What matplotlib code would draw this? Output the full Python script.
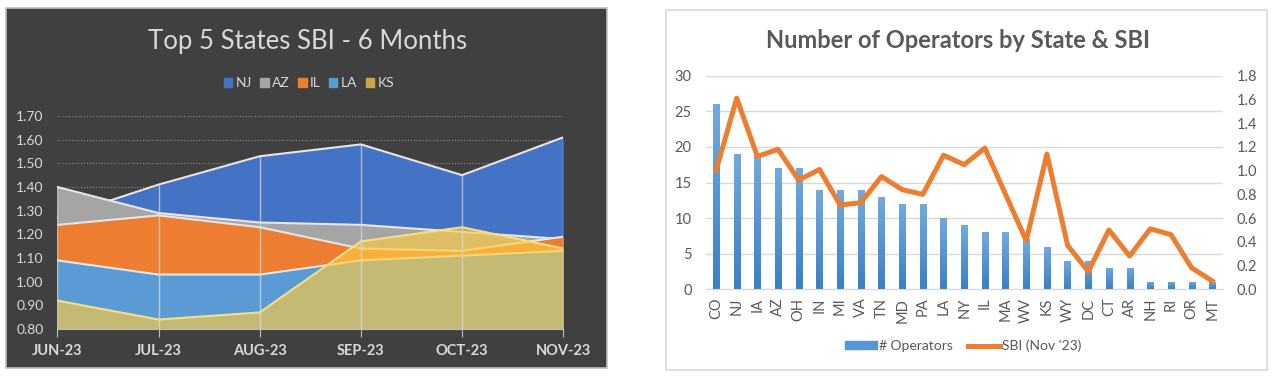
import numpy as np
import matplotlib
matplotlib.use('Agg')
import matplotlib.pyplot as plt
from matplotlib.patches import Rectangle, Patch
from matplotlib.lines import Line2D
from matplotlib.ticker import FormatStrFormatter
from matplotlib.colors import LinearSegmentedColormap

plt.rcParams['font.family'] = ['Lato', 'DejaVu Sans']

W, H = 1273, 376

# левый график: SBI по месяцам
months = ['JUN-23', 'JUL-23', 'AUG-23', 'SEP-23', 'OCT-23', 'NOV-23']
nj = [1.27, 1.41, 1.53, 1.58, 1.45, 1.61]
az = [1.40, 1.29, 1.25, 1.24, 1.21, 1.18]
il = [1.24, 1.28, 1.23, 1.14, 1.13, 1.19]
la = [1.09, 1.03, 1.03, 1.09, 1.11, 1.13]
ks = [0.92, 0.84, 0.87, 1.17, 1.23, 1.14]

# правый график: операторы и SBI за ноябрь
states = ['CO', 'NJ', 'IA', 'AZ', 'OH', 'IN', 'MI', 'VA', 'TN', 'MD', 'PA', 'LA', 'NY',
          'IL', 'MA', 'WV', 'KS', 'WY', 'DC', 'CT', 'AR', 'NH', 'RI', 'OR', 'MT']
operators = [26, 19, 19, 17, 17, 14, 14, 14, 13, 12, 12, 10, 9, 8, 8, 7, 6, 4, 4, 3, 3, 1, 1, 1, 1]
sbi_nov = [1.00, 1.61, 1.12, 1.18, 0.92, 1.01, 0.71, 0.73, 0.95, 0.84, 0.80, 1.13, 1.05,
           1.19, 0.80, 0.41, 1.14, 0.37, 0.15, 0.50, 0.28, 0.51, 0.46, 0.18, 0.07]


def box(l, t, r, b):
    """пиксели -> доли фигуры"""
    return [l / W, 1 - b / H, (r - l) / W, (b - t) / H]


fig = plt.figure(figsize=(W / 100, H / 100), dpi=100)

# подложки панелей (отдельные оси на заднем плане)
bg = fig.add_axes([0, 0, 1, 1], zorder=-10)
bg.set_axis_off()
bg.set_xlim(0, W)
bg.set_ylim(H, 0)
bg.add_patch(Rectangle((6, 8), 601, 360, facecolor='#404040', edgecolor='#BFBFBF', lw=1.2))
bg.add_patch(Rectangle((666, 10), 601, 360, facecolor='white', edgecolor='#D9D9D9', lw=1.2))

# ---- левый график ----
ax1 = fig.add_axes(box(57.3, 116, 563.3, 329))
ax1.set_facecolor('none')
x = np.arange(len(months))
series = [('NJ', nj, '#4472C4'), ('AZ', az, '#A5A5A5'), ('IL', il, '#ED7D31'), ('LA', la, '#5B9BD5')]
for i, (name, vals, c) in enumerate(series):
    ax1.fill_between(x, 0.8, vals, color=c, lw=0, zorder=2 + i)
    ax1.plot(x, vals, color='#E6E6E6', lw=1.5, zorder=2 + i)
ax1.fill_between(x, 0.8, ks, color='#FFCC40', alpha=0.65, lw=0, zorder=7)
ax1.plot(x, ks, color='#F5DE8A', lw=1.5, zorder=7)

tops = np.max([nj, az, il, la, ks], axis=0)
ax1.vlines(x, 0.8, tops, color='#D9D9D9', lw=1, alpha=0.75, zorder=8)

ax1.set_xlim(0, 5)
ax1.set_ylim(0.8, 1.7)
ax1.set_yticks(np.arange(0.8, 1.71, 0.1))
ax1.yaxis.set_major_formatter(FormatStrFormatter('%.2f'))
ax1.set_xticks(x)
ax1.set_xticklabels(months, fontweight='bold')
ax1.yaxis.grid(True, linestyle=':', color='#8C8C8C', lw=0.8)
ax1.set_axisbelow(True)
for s in ['top', 'right', 'left']:
    ax1.spines[s].set_visible(False)
ax1.spines['bottom'].set_color('#BFBFBF')
ax1.spines['bottom'].set_zorder(9)
ax1.tick_params(axis='y', length=0, pad=10, labelcolor='#D9D9D9', labelsize=10)
ax1.tick_params(axis='x', length=6, color='#BFBFBF', pad=5, labelcolor='#D9D9D9', labelsize=10.5)

fig.text(308 / W, 1 - 41 / H, 'Top 5 States SBI - 6 Months', ha='center', va='center',
         color='#D9D9D9', fontsize=18.5)
leg_handles = [Patch(color=c) for _, _, c in series] + [Patch(color='#C9A843')]
fig.legend(leg_handles, ['NJ', 'AZ', 'IL', 'LA', 'KS'], loc='center', bbox_to_anchor=(309 / W, 1 - 83 / H),
           ncol=5, frameon=False, labelcolor='#D9D9D9', fontsize=10, handlelength=0.6, handleheight=0.6,
           handletextpad=0.25, columnspacing=0.6)

# ---- правый график ----
ax2 = fig.add_axes(box(705.7, 75.7, 1222.7, 289.3))
ax2.set_facecolor('none')
xs = np.arange(len(states))
bars = ax2.bar(xs, operators, width=0.3, color='#5597D6', zorder=2)

# градиент на столбцах как в Excel
grad_cmap = LinearSegmentedColormap.from_list('bar_grad', ['#3A80C6', '#72AADF'])
grad = np.linspace(0, 1, 64).reshape(-1, 1)
for b in bars:
    im = ax2.imshow(grad, cmap=grad_cmap, origin='lower', aspect='auto', zorder=2.1,
                    extent=[b.get_x(), b.get_x() + b.get_width(), 0, b.get_height()])
    im.set_clip_path(b)

ax2.set_xlim(-0.5, len(states) - 0.5)
ax2.set_ylim(0, 30)
ax2.set_yticks(range(0, 31, 5))
ax2.set_xticks(xs)
ax2.set_xticklabels(states, rotation=90)
ax2.yaxis.grid(True, color='#D9D9D9', lw=1)
ax2.set_axisbelow(True)
for s in ['top', 'right', 'left']:
    ax2.spines[s].set_visible(False)
ax2.spines['bottom'].set_color('#D9D9D9')
ax2.tick_params(axis='both', length=0, labelcolor='#595959', labelsize=10.5)
ax2.tick_params(axis='y', pad=10)
ax2.tick_params(axis='x', pad=6)

ax3 = ax2.twinx()
ax3.plot(xs, sbi_nov, color='#ED7D31', lw=3.6, zorder=3)
ax3.set_ylim(0, 1.8)
ax3.set_yticks(np.arange(0, 1.81, 0.2))
ax3.yaxis.set_major_formatter(FormatStrFormatter('%.1f'))
for s in ax3.spines.values():
    s.set_visible(False)
ax3.tick_params(axis='y', length=0, pad=10, labelcolor='#595959', labelsize=10.5)

fig.text(958 / W, 1 - 41 / H, 'Number of Operators by State & SBI', ha='center', va='center',
         color='#595959', fontsize=17, fontweight='bold')
fig.legend([Patch(color='#5597D6'), Line2D([], [], color='#ED7D31', lw=3.6)],
           ['# Operators', "SBI (Nov '23)"], loc='center', bbox_to_anchor=(963 / W, 1 - 346 / H),
           ncol=2, frameon=False, labelcolor='#595959', fontsize=10, handlelength=2.3,
           handleheight=0.5, handletextpad=0.15, columnspacing=1.1)

fig.savefig('out.png', dpi=100)
